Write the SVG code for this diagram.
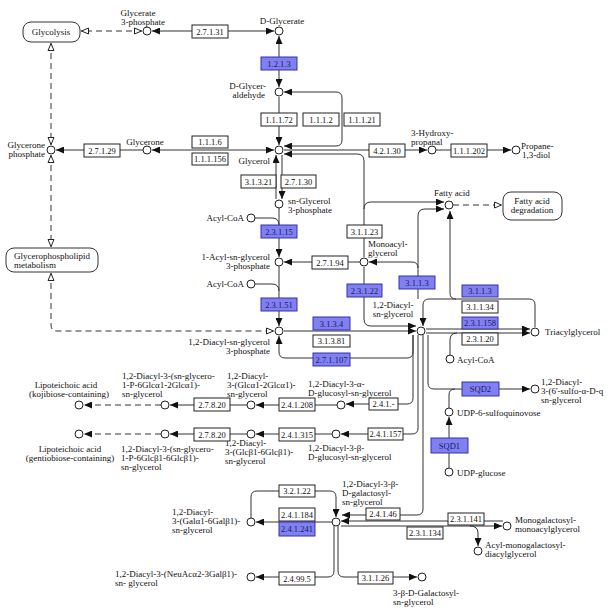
<svg xmlns="http://www.w3.org/2000/svg" width="615" height="615" viewBox="0 0 615 615">
<defs>
<style>
text{font-family:"Liberation Serif","Times New Roman",serif;font-size:9px;fill:#111}
.l{fill:none;stroke:#333;stroke-width:1}
.d{fill:none;stroke:#333;stroke-width:1;stroke-dasharray:6 4}
.a{marker-end:url(#ah)}
.s{marker-start:url(#ah)}
.b{marker-start:url(#ah);marker-end:url(#ah)}
.oo{marker-start:url(#oh);marker-end:url(#oh)}
.oe{marker-end:url(#oh)}
.c{fill:#fff;stroke:#222;stroke-width:1}
.e rect{fill:#fff;stroke:#222;stroke-width:1}
.eb rect{fill:#8080f0;stroke:#3333aa;stroke-width:1}
.e text,.eb text{font-size:8.5px;text-anchor:middle}
.eb text{fill:#1a1a66}
.m{text-anchor:middle}
.r{text-anchor:end}
.p rect{fill:#fff;stroke:#333;stroke-width:1}
</style>
<marker id="ah" viewBox="0 0 8 7" refX="8" refY="3.5" markerWidth="8" markerHeight="7" markerUnits="userSpaceOnUse" orient="auto-start-reverse"><path d="M0,0L8,3.5L0,7z" fill="#111"/></marker>
<marker id="oh" viewBox="0 0 9 8" refX="8.5" refY="4" markerWidth="9" markerHeight="8" markerUnits="userSpaceOnUse" orient="auto-start-reverse"><path d="M1,1L8,4L1,7z" fill="#fff" stroke="#222" stroke-width="1"/></marker>
</defs>
<rect width="615" height="615" fill="#fff"/>

<g id="connectors">
<path class="l b" d="M152,31H274"/>
<path class="d oo" d="M142,31H81"/>
<path class="l b" d="M279,36V87"/>
<path class="l a" d="M279,97V145"/>
<path class="l b" d="M284,92H336Q342,92 342,98V140Q342,146 336,146H284"/>
<path class="l b" d="M152,150H274"/>
<path class="l a" d="M143,150H56"/>
<path class="d oo" d="M51,43V145"/>
<path class="d oo" d="M51,155V247"/>
<path class="d oo" d="M51,273V325Q51,331 57,331H274"/>
<path class="l a" d="M276,199V155"/>
<path class="l a" d="M282,155V199"/>
<path class="l a" d="M284,150H427"/>
<path class="l a" d="M436,150H511"/>
<path class="l a" d="M364,257V161Q364,154 357,154H284"/>
<path class="l a" d="M364,209Q364,202 371,202H444"/>
<path class="l a" d="M279,208V257"/>
<path class="l" d="M255,218H272Q279,218 279,225"/>
<path class="l a" d="M360,262H284"/>
<path class="l a" d="M279,266V326"/>
<path class="l" d="M255,284H272Q279,284 279,291"/>
<path class="l a" d="M284,331H416"/>
<path class="l s" d="M279,336V352Q279,358 285,358H407Q413,358 413,352V335"/>
<path class="l a" d="M364,267V319Q364,326 371,326H416"/>
<path class="l a" d="M418,299V216Q418,209 425,209H444"/>
<path class="l a" d="M418,268Q418,262 412,262H369"/>
<path class="l a" d="M535,327V305Q535,299 529,299H429Q423,299 423,305V326"/>
<path class="l a" d="M456,299Q450,299 450,293V211"/>
<path class="l a" d="M426,329H530"/>
<path class="l a" d="M426,333H530"/>
<path class="l" d="M450,355V340Q450,333 457,333"/>
<path class="l a" d="M428,335V383Q428,389 434,389H530"/>
<path class="l" d="M449,408V395Q449,389 455,389"/>
<path class="l a" d="M449,468V417"/>
<path class="l a" d="M413,335V398Q413,404 407,404H346"/>
<path class="l a" d="M418,335V428Q418,434 412,434H341"/>
<path class="l a" d="M423,335V509Q423,515 417,515H342"/>
<path class="l a" d="M337,405H256"/>
<path class="l a" d="M247,405H170"/>
<path class="d a" d="M161,405H84"/>
<path class="l a" d="M332,434H256"/>
<path class="l a" d="M247,434H170"/>
<path class="d a" d="M161,434H84"/>
<path class="l a" d="M332,522H256"/>
<path class="l a" d="M251,518V497Q251,491 257,491H330Q336,491 336,497V517"/>
<path class="l a" d="M334,526V571Q334,577 328,577H256"/>
<path class="l a" d="M338,526V571Q338,577 344,577H417"/>
<path class="l a" d="M503,521H341"/>
<path class="l a" d="M341,526H502"/>
<path class="l a" d="M470,526Q478,526 478,533V546"/>
<path class="d oe" d="M453,205H502"/>
</g>

<g id="glycolysis" class="p"><rect x="23" y="22" width="57" height="20" rx="8"/><text class="m" x="51" y="35">Glycolysis</text></g>
<g id="glycerophospholipid" class="p"><rect x="6" y="248" width="92" height="24" rx="8"/><text x="14" y="259">Glycerophospholipid</text><text x="14" y="268">metabolism</text></g>
<g id="fa-degradation" class="p"><rect x="503" y="192" width="59" height="28" rx="8"/><text class="m" x="532" y="204">Fatty acid</text><text class="m" x="532" y="213">degradation</text></g>

<g id="glycerate-3p"><circle class="c" cx="147" cy="31" r="4"/><text class="m" x="138" y="16">Glycerate</text><text class="m" x="143" y="25">3-phosphate</text></g>
<g id="d-glycerate"><circle class="c" cx="279" cy="31" r="4"/><text class="m" x="282" y="24">D-Glycerate</text></g>
<g id="d-glyceraldehyde"><circle class="c" cx="279" cy="92" r="4"/><text class="r" x="266" y="89">D-Glycer-</text><text class="r" x="265" y="98">aldehyde</text></g>
<g id="glycerol"><circle class="c" cx="279" cy="150" r="4"/><text class="r" x="270" y="164">Glycerol</text></g>
<g id="glycerone"><circle class="c" cx="147" cy="150" r="4"/><text class="m" x="145" y="145">Glycerone</text></g>
<g id="glycerone-p"><circle class="c" cx="51" cy="150" r="4"/><text class="r" x="45" y="148">Glycerone</text><text class="r" x="45" y="157">phosphate</text></g>
<g id="sn-glycerol-3p"><circle class="c" cx="279" cy="204" r="4"/><text x="288" y="204">sn-Glycerol</text><text x="288" y="213">3-phosphate</text></g>
<g id="acyl-coa-1"><circle class="c" cx="251" cy="218" r="4"/><text class="r" x="244" y="221">Acyl-CoA</text></g>
<g id="acyl-g3p"><circle class="c" cx="279" cy="262" r="4"/><text class="r" x="270" y="260">1-Acyl-sn-glycerol</text><text class="r" x="270" y="269">3-phosphate</text></g>
<g id="acyl-coa-2"><circle class="c" cx="251" cy="284" r="4"/><text class="r" x="244" y="287">Acyl-CoA</text></g>
<g id="diacyl-g3p"><circle class="c" cx="279" cy="331" r="4"/><text class="r" x="270" y="345">1,2-Diacyl-sn-glycerol</text><text class="r" x="270" y="354">3-phosphate</text></g>
<g id="monoacylglycerol"><circle class="c" cx="364" cy="262" r="4"/><text x="368" y="247">Monoacyl-</text><text x="368" y="256">glycerol</text></g>
<g id="hydroxypropanal"><circle class="c" cx="432" cy="150" r="4"/><text x="411" y="136">3-Hydroxy-</text><text x="411" y="145">propanal</text></g>
<g id="propanediol"><circle class="c" cx="516" cy="150" r="4"/><text x="521" y="149">Propane-</text><text x="522" y="158">1,3-diol</text></g>
<g id="fatty-acid"><circle class="c" cx="449" cy="205" r="4"/><text x="434" y="196">Fatty acid</text></g>
<g id="diacylglycerol"><circle class="c" cx="421" cy="331" r="4"/><text class="m" x="393" y="308">1,2-Diacyl-</text><text class="m" x="393" y="317">sn-glycerol</text></g>
<g id="triacylglycerol"><circle class="c" cx="535" cy="332" r="4"/><text x="545" y="335">Triacylglycerol</text></g>
<g id="acyl-coa-3"><circle class="c" cx="450" cy="359" r="4"/><text x="457" y="363">Acyl-CoA</text></g>
<g id="sqdg"><circle class="c" cx="535" cy="389" r="4"/><text x="541" y="385">1,2-Diacyl-</text><text x="541" y="394">3-(6'-sulfo-α-D-q</text><text x="541" y="403">sn-glycerol</text></g>
<g id="udp-sq"><circle class="c" cx="449" cy="412" r="4"/><text x="457" y="416">UDP-6-sulfoquinovose</text></g>
<g id="udp-glucose"><circle class="c" cx="449" cy="472" r="4"/><text x="457" y="476">UDP-glucose</text></g>
<g id="a-glucosyl-dag"><circle class="c" cx="341" cy="405" r="4"/><text x="308" y="387">1,2-Diacyl-3-α-</text><text x="308" y="396">D-glucosyl-sn-glycerol</text></g>
<g id="glca-dag"><circle class="c" cx="251" cy="405" r="4"/><text x="227" y="379">1,2-Diacyl-</text><text x="227" y="388">3-(Glcα1-2Glcα1)-</text><text x="227" y="397">sn-glycerol</text></g>
<g id="glycero-p-glca-dag"><circle class="c" cx="165" cy="405" r="4"/><text x="122" y="379">1,2-Diacyl-3-(sn-glycero-</text><text x="122" y="388">1-P-6Glcα1-2Glcα1)-</text><text x="122" y="397">sn-glycerol</text></g>
<g id="lta-kojibiose"><circle class="c" cx="79" cy="405" r="4"/><text class="m" x="66" y="388">Lipoteichoic acid</text><text class="m" x="69" y="397">(kojibiose-containing)</text></g>
<g id="b-glucosyl-dag"><circle class="c" cx="336" cy="434" r="4"/><text x="308" y="451">1,2-Diacyl-3-β-</text><text x="308" y="460">D-glucosyl-sn-glycerol</text></g>
<g id="glcb-dag"><circle class="c" cx="251" cy="434" r="4"/><text x="225" y="446">1,2-Diacyl-</text><text x="225" y="455">3-(Glcβ1-6Glcβ1)-</text><text x="225" y="464">sn-glycerol</text></g>
<g id="glycero-p-glcb-dag"><circle class="c" cx="165" cy="434" r="4"/><text x="121" y="452">1,2-Diacyl-3-(sn-glycero-</text><text x="121" y="461">1-P-6Glcβ1-6Glcβ1)-</text><text x="121" y="470">sn-glycerol</text></g>
<g id="lta-gentiobiose"><circle class="c" cx="79" cy="434" r="4"/><text class="m" x="70" y="452">Lipoteichoic acid</text><text class="m" x="70" y="461">(gentiobiose-containing)</text></g>
<g id="galactosyl-dag"><circle class="c" cx="336" cy="522" r="4"/><text x="342" y="487">1,2-Diacyl-3-β-</text><text x="342" y="496">D-galactosyl-</text><text x="342" y="505">sn-glycerol</text></g>
<g id="gal-gal-dag"><circle class="c" cx="251" cy="522" r="4"/><text x="172" y="515">1,2-Diacyl-</text><text x="172" y="524">3-(Galα1-6Galβ1)-</text><text x="172" y="533">sn-glycerol</text></g>
<g id="neuac-dag"><circle class="c" cx="251" cy="577" r="4"/><text x="115" y="577">1,2-Diacyl-3-(NeuAcα2-3Galβ1)-</text><text x="115" y="586">sn- glycerol</text></g>
<g id="galactosyl-glycerol"><circle class="c" cx="422" cy="577" r="4"/><text x="393" y="596">3-β-D-Galactosyl-</text><text x="393" y="605">sn-glycerol</text></g>
<g id="mgmg"><circle class="c" cx="507" cy="526" r="4"/><text x="515" y="523">Monogalactosyl-</text><text x="515" y="532">monoacylglycerol</text></g>
<g id="acyl-mgdg"><circle class="c" cx="478" cy="551" r="4"/><text x="485" y="548">Acyl-monogalactosyl-</text><text x="485" y="557">diacylglycerol</text></g>

<g id="ec-2-7-1-31" class="e"><rect x="192" y="25" width="36" height="13"/><text x="210" y="34.5">2.7.1.31</text></g>
<g id="ec-1-2-1-3" class="eb"><rect x="261" y="57" width="36" height="13"/><text x="279" y="66.5">1.2.1.3</text></g>
<g id="ec-1-1-1-72" class="e"><rect x="261" y="113" width="36" height="13"/><text x="279" y="122.5">1.1.1.72</text></g>
<g id="ec-1-1-1-2" class="e"><rect x="303" y="113" width="36" height="13"/><text x="321" y="122.5">1.1.1.2</text></g>
<g id="ec-1-1-1-21" class="e"><rect x="344" y="113" width="36" height="13"/><text x="362" y="122.5">1.1.1.21</text></g>
<g id="ec-1-1-1-6" class="e"><rect x="192" y="136" width="36" height="12"/><text x="210" y="145">1.1.1.6</text></g>
<g id="ec-1-1-1-156" class="e"><rect x="192" y="153" width="36" height="12"/><text x="210" y="162">1.1.1.156</text></g>
<g id="ec-2-7-1-29" class="e"><rect x="84" y="144" width="36" height="13"/><text x="102" y="153.5">2.7.1.29</text></g>
<g id="ec-4-2-1-30" class="e"><rect x="369" y="144" width="36" height="13"/><text x="387" y="153.5">4.2.1.30</text></g>
<g id="ec-1-1-1-202" class="e"><rect x="451" y="144" width="36" height="13"/><text x="469" y="153.5">1.1.1.202</text></g>
<g id="ec-3-1-3-21" class="e"><rect x="241" y="175" width="35" height="13"/><text x="258.5" y="184.5">3.1.3.21</text></g>
<g id="ec-2-7-1-30" class="e"><rect x="281" y="175" width="35" height="13"/><text x="298.5" y="184.5">2.7.1.30</text></g>
<g id="ec-2-3-1-15" class="eb"><rect x="261" y="225" width="36" height="13"/><text x="279" y="234.5">2.3.1.15</text></g>
<g id="ec-3-1-1-23" class="e"><rect x="347" y="225" width="35" height="13"/><text x="364.5" y="234.5">3.1.1.23</text></g>
<g id="ec-2-7-1-94" class="e"><rect x="312" y="256" width="36" height="13"/><text x="330" y="265.5">2.7.1.94</text></g>
<g id="ec-3-1-1-3a" class="eb"><rect x="399" y="276" width="36" height="13"/><text x="417" y="285.5">3.1.1.3</text></g>
<g id="ec-2-3-1-22" class="eb"><rect x="347" y="284" width="35" height="13"/><text x="364.5" y="293.5">2.3.1.22</text></g>
<g id="ec-2-3-1-51" class="eb"><rect x="261" y="298" width="36" height="13"/><text x="279" y="307.5">2.3.1.51</text></g>
<g id="ec-3-1-3-4" class="eb"><rect x="313" y="317" width="37" height="13"/><text x="331.5" y="326.5">3.1.3.4</text></g>
<g id="ec-3-1-3-81" class="e"><rect x="313" y="335" width="37" height="12"/><text x="331.5" y="344">3.1.3.81</text></g>
<g id="ec-2-7-1-107" class="eb"><rect x="313" y="353" width="37" height="13"/><text x="331.5" y="362.5">2.7.1.107</text></g>
<g id="ec-3-1-1-3b" class="eb"><rect x="462" y="285" width="36" height="12"/><text x="480" y="294">3.1.1.3</text></g>
<g id="ec-3-1-1-34" class="e"><rect x="462" y="301" width="36" height="12"/><text x="480" y="310">3.1.1.34</text></g>
<g id="ec-2-3-1-158" class="eb"><rect x="462" y="317" width="36" height="12"/><text x="480" y="326">2.3.1.158</text></g>
<g id="ec-2-3-1-20" class="e"><rect x="462" y="333" width="36" height="12"/><text x="480" y="342">2.3.1.20</text></g>
<g id="ec-sqd2" class="eb"><rect x="462" y="382" width="37" height="14"/><text x="480.5" y="392">SQD2</text></g>
<g id="ec-sqd1" class="eb"><rect x="431" y="438" width="37" height="15"/><text x="449.5" y="448.5">SQD1</text></g>
<g id="ec-2-7-8-20a" class="e"><rect x="194" y="398" width="36" height="13"/><text x="212" y="407.5">2.7.8.20</text></g>
<g id="ec-2-4-1-208" class="e"><rect x="279" y="398" width="36" height="13"/><text x="297" y="407.5">2.4.1.208</text></g>
<g id="ec-2-4-1-x" class="e"><rect x="369" y="398" width="29" height="12"/><text x="383.5" y="407">2.4.1.-</text></g>
<g id="ec-2-7-8-20b" class="e"><rect x="194" y="428" width="36" height="13"/><text x="212" y="437.5">2.7.8.20</text></g>
<g id="ec-2-4-1-315" class="e"><rect x="279" y="428" width="36" height="13"/><text x="297" y="437.5">2.4.1.315</text></g>
<g id="ec-2-4-1-157" class="e"><rect x="368" y="428" width="35" height="12"/><text x="385.5" y="437">2.4.1.157</text></g>
<g id="ec-3-2-1-22" class="e"><rect x="279" y="485" width="36" height="12"/><text x="297" y="494">3.2.1.22</text></g>
<g id="ec-2-4-1-184" class="e"><rect x="279" y="508" width="36" height="13"/><text x="297" y="517.5">2.4.1.184</text></g>
<g id="ec-2-4-1-241" class="eb"><rect x="279" y="522" width="36" height="14"/><text x="297" y="532">2.4.1.241</text></g>
<g id="ec-2-4-1-46" class="e"><rect x="366" y="508" width="34" height="12"/><text x="383" y="517">2.4.1.46</text></g>
<g id="ec-2-3-1-141" class="e"><rect x="448" y="513" width="36" height="12"/><text x="466" y="522">2.3.1.141</text></g>
<g id="ec-2-3-1-134" class="e"><rect x="407" y="527" width="36" height="12"/><text x="425" y="536">2.3.1.134</text></g>
<g id="ec-2-4-99-5" class="e"><rect x="279" y="572" width="36" height="13"/><text x="297" y="581.5">2.4.99.5</text></g>
<g id="ec-3-1-1-26" class="e"><rect x="358" y="572" width="35" height="12"/><text x="375.5" y="581">3.1.1.26</text></g>
</svg>
